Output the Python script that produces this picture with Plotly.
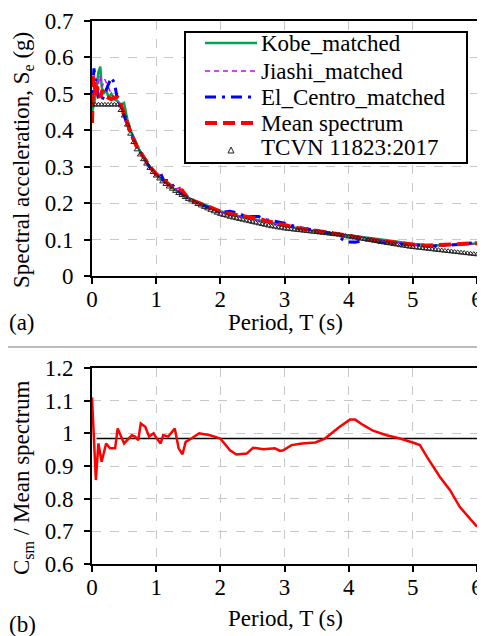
import plotly.graph_objects as go

# ---------------- data ----------------
T_tcvn = [round(0.05 * i, 2) for i in range(121)]
tcvn = [0.47, 0.47, 0.47, 0.47, 0.47, 0.47, 0.47, 0.47, 0.47,
        0.455, 0.44, 0.415, 0.39, 0.367, 0.347, 0.333, 0.32, 0.308, 0.296, 0.285,
        0.275, 0.267, 0.259, 0.252, 0.245, 0.239, 0.233, 0.227, 0.222, 0.216,
        0.211, 0.207, 0.202, 0.197, 0.193, 0.189, 0.185, 0.181, 0.177, 0.173,
        0.170, 0.167, 0.165, 0.162, 0.160, 0.158, 0.156, 0.154, 0.152, 0.150,
        0.148, 0.146, 0.144, 0.142, 0.140, 0.138, 0.136, 0.135, 0.133, 0.132,
        0.130, 0.129, 0.128, 0.127, 0.126, 0.125, 0.124, 0.123, 0.122, 0.121,
        0.120, 0.119, 0.118, 0.117, 0.116, 0.115, 0.114, 0.113, 0.111, 0.110,
        0.108, 0.107, 0.105, 0.104, 0.102, 0.101, 0.099, 0.098, 0.096, 0.095,
        0.093, 0.092, 0.090, 0.089, 0.087, 0.086, 0.084, 0.083, 0.082, 0.080,
        0.079, 0.078, 0.077, 0.076, 0.075, 0.074, 0.073, 0.072, 0.071, 0.070,
        0.069, 0.068, 0.067, 0.066, 0.065, 0.064, 0.063, 0.062, 0.061, 0.060,
        0.059]

T_kobe = [0, 0.03, 0.06, 0.1, 0.13, 0.15, 0.18, 0.22, 0.26, 0.3, 0.35, 0.4, 0.45, 0.5,
          0.55, 0.6, 0.7, 0.8, 0.9, 1.0, 1.1, 1.2, 1.3, 1.4, 1.5, 1.6, 1.7, 1.8, 2.0,
          2.2, 2.4, 2.6, 2.8, 3.0, 3.3, 3.6, 4.0, 4.3, 4.6, 5.0, 5.3, 5.6, 6.0]
kobe = [0.45, 0.47, 0.5, 0.56, 0.575, 0.52, 0.5, 0.51, 0.49, 0.5, 0.485, 0.48, 0.47, 0.475,
        0.43, 0.4, 0.36, 0.325, 0.3, 0.278, 0.262, 0.248, 0.236, 0.224, 0.214, 0.206, 0.2,
        0.193, 0.178, 0.167, 0.16, 0.153, 0.145, 0.138, 0.128, 0.12, 0.112, 0.105, 0.098,
        0.088, 0.084, 0.086, 0.089]

T_jiashi = [0, 0.04, 0.08, 0.12, 0.16, 0.2, 0.25, 0.3, 0.35, 0.4, 0.45, 0.5, 0.6, 0.7,
            0.8, 0.85, 0.9, 1.0, 1.1, 1.2, 1.3, 1.4, 1.45, 1.5, 1.6, 1.8, 2.0, 2.2, 2.4,
            2.6, 2.8, 3.0, 3.3, 3.6, 4.0, 4.3, 4.6, 5.0, 5.3, 5.6, 6.0]
jiashi = [0.47, 0.52, 0.5, 0.55, 0.52, 0.54, 0.52, 0.5, 0.49, 0.48, 0.46, 0.44, 0.39,
          0.355, 0.325, 0.32, 0.3, 0.278, 0.263, 0.25, 0.238, 0.245, 0.22, 0.212, 0.204,
          0.19, 0.176, 0.168, 0.16, 0.153, 0.143, 0.137, 0.128, 0.12, 0.112, 0.104, 0.097,
          0.087, 0.083, 0.085, 0.088]

T_elc = [0, 0.03, 0.06, 0.1, 0.15, 0.2, 0.25, 0.3, 0.35, 0.4, 0.45, 0.5, 0.6, 0.7, 0.8,
         0.9, 1.0, 1.06, 1.12, 1.2, 1.3, 1.4, 1.5, 1.6, 1.8, 2.0, 2.15, 2.25, 2.4, 2.6,
         2.7, 2.85, 3.0, 3.2, 3.5, 3.8, 3.95, 4.1, 4.3, 4.5, 4.8, 5.0, 5.3, 5.6, 6.0]
elc = [0.48, 0.57, 0.53, 0.49, 0.48, 0.5, 0.52, 0.545, 0.53, 0.48, 0.46, 0.44, 0.39,
       0.355, 0.325, 0.298, 0.278, 0.285, 0.262, 0.262, 0.24, 0.226, 0.212, 0.204, 0.188,
       0.174, 0.178, 0.174, 0.163, 0.163, 0.155, 0.149, 0.145, 0.134, 0.125, 0.115, 0.094,
       0.093, 0.1, 0.092, 0.088, 0.085, 0.082, 0.085, 0.092]

T_mean = [0, 0.02, 0.04, 0.06, 0.08, 0.1, 0.13, 0.16, 0.2, 0.25, 0.3, 0.35, 0.4, 0.45,
          0.5, 0.55, 0.6, 0.7, 0.8, 0.9, 1.0, 1.1, 1.2, 1.3, 1.4, 1.5, 1.6, 1.7, 1.8, 1.9,
          2.0, 2.1, 2.2, 2.3, 2.4, 2.5, 2.6, 2.7, 2.8, 2.9, 3.0, 3.2, 3.4, 3.6, 3.8, 4.0,
          4.2, 4.4, 4.6, 4.8, 5.0, 5.2, 5.4, 5.6, 5.8, 6.0]
mean = [0.42, 0.55, 0.53, 0.49, 0.52, 0.50, 0.49, 0.51, 0.495, 0.49, 0.485, 0.49, 0.49,
        0.47, 0.445, 0.42, 0.395, 0.355, 0.325, 0.3, 0.28, 0.265, 0.25, 0.237, 0.235,
        0.213, 0.205, 0.198, 0.19, 0.183, 0.177, 0.172, 0.17, 0.166, 0.163, 0.161, 0.157,
        0.152, 0.147, 0.143, 0.14, 0.132, 0.127, 0.121, 0.117, 0.111, 0.105, 0.099, 0.094,
        0.09, 0.085, 0.083, 0.085, 0.087, 0.088, 0.09]

T_ratio = [0.0, 0.03, 0.06, 0.1, 0.15, 0.22, 0.28, 0.36, 0.40, 0.5, 0.62, 0.67, 0.72,
           0.76, 0.83, 0.89, 0.96, 1.01, 1.07, 1.11, 1.19, 1.23, 1.29, 1.35, 1.41, 1.46,
           1.55, 1.67, 1.84, 2.0, 2.15, 2.25, 2.41, 2.51, 2.67, 2.85, 2.93, 2.98, 3.11,
           3.27, 3.48, 3.63, 3.86, 4.02, 4.1, 4.23, 4.38, 4.59, 4.8, 5.01, 5.11, 5.22,
           5.42, 5.58, 5.73, 6.0]
ratio = [1.11, 0.98, 0.857, 0.969, 0.913, 0.969, 0.954, 0.954, 1.015, 0.969, 0.994,
         0.99, 0.979, 1.03, 1.02, 0.99, 1.0, 0.984, 0.969, 0.995, 0.99, 1.0, 1.015, 0.954,
         0.936, 0.974, 0.984, 1.0, 0.994, 0.984, 0.948, 0.935, 0.938, 0.956, 0.951, 0.954,
         0.946, 0.948, 0.964, 0.969, 0.972, 0.984, 1.02, 1.042, 1.042, 1.025, 1.008, 0.994,
         0.984, 0.971, 0.964, 0.928, 0.867, 0.826, 0.775, 0.714]

T_ref = [0.07, 6.0]
ref = [0.984, 0.984]

series_names = ["Kobe_matched", "Jiashi_matched", "El_Centro_matched",
                "Mean spectrum", "TCVN 11823:2017"]

# ---------------- styles ----------------
FONT = "Liberation Serif"
FS = 23
styles = [
    dict(color="#00a650", width=2.5, dash="solid"),
    dict(color="#cc00ff", width=1.5, dash="5px,4px"),
    dict(color="#0000ff", width=3, dash="11px,6px,3px,6px"),
    dict(color="#ff0000", width=4, dash="12px,6px"),
]

# page offset: the page body has an 8 px margin
OFF = 8
W, H = 485 - OFF, 636 - OFF


def px(X):
    return (X - OFF) / W


def py(Y):
    return 1 - (Y - OFF) / H


fig = go.Figure()
for (xs, ys), nm, st in zip([(T_kobe, kobe), (T_jiashi, jiashi), (T_elc, elc),
                             (T_mean, mean)], series_names[:4], styles):
    fig.add_trace(go.Scatter(x=xs, y=ys, mode="lines", name=nm, showlegend=False,
                             line=st))
fig.add_trace(go.Scatter(x=T_tcvn, y=tcvn, mode="markers", name=series_names[4],
                         showlegend=False,
                         marker=dict(symbol="triangle-up-open", size=5, color="#222222",
                                     line=dict(width=1, color="#222222"))))

fig.add_trace(go.Scatter(x=T_ref, y=ref, mode="lines", showlegend=False,
                         line=dict(color="black", width=1.5), xaxis="x2", yaxis="y2"))
fig.add_trace(go.Scatter(x=T_ratio, y=ratio, mode="lines", showlegend=False,
                         line=dict(color="#ff0000", width=2.5), xaxis="x2", yaxis="y2"))

axis_common = dict(showline=True, linecolor="black", linewidth=2, mirror=True,
                   ticks="outside", ticklen=6, tickwidth=1.5, tickcolor="black",
                   showgrid=True, gridcolor="#c8c8c8", griddash="dash", gridwidth=1,
                   zeroline=False, automargin=False,
                   tickfont=dict(family=FONT, size=FS, color="black"))
xax = dict(range=[0, 6], dtick=1, ticklabelstandoff=-5, **axis_common)
yax = dict(dtick=0.1, tickformat=".1~f", ticklabelstandoff=6, **axis_common)

fig.update_layout(
    width=W, height=H, margin=dict(l=0, r=0, t=0, b=0, autoexpand=False),
    paper_bgcolor="white", plot_bgcolor="white",
    font=dict(family=FONT, size=FS, color="black"),
    showlegend=False,
    xaxis=dict(domain=[px(92), px(477)], anchor="y", **xax),
    yaxis=dict(domain=[py(276), py(21)], anchor="x", range=[0, 0.7], **yax),
    xaxis2=dict(domain=[px(92), px(477)], anchor="y2", **xax),
    yaxis2=dict(domain=[py(564), py(368)], anchor="x2", range=[0.6, 1.2], **yax),
)

# legend box (drawn in the upper panel)
fig.add_shape(type="rect", xref="paper", yref="paper", x0=px(185), x1=px(467),
              y0=py(163), y1=py(32), line=dict(color="black", width=2),
              fillcolor="white", layer="above")
leg_y = [43, 71, 97, 123, 148]
for i, st in enumerate(styles):
    fig.add_shape(type="line", xref="paper", yref="paper", x0=px(205), x1=px(257),
                  y0=py(leg_y[i]), y1=py(leg_y[i]), line=st, layer="above")
fig.add_shape(type="path", xref="paper", yref="paper", layer="above",
              path=f"M {px(228)} {py(153)} L {px(234)} {py(153)} L {px(231)} {py(147)} Z",
              line=dict(color="#222222", width=1))
for i, nm in enumerate(series_names):
    fig.add_annotation(xref="paper", yref="paper", x=px(259), y=py(leg_y[i]),
                       text=nm, showarrow=False, xanchor="left", yanchor="middle",
                       font=dict(family=FONT, size=FS, color="black"))

ann = [
    dict(text="Spectral acceleration, S<sub>e</sub> (g)", x=px(23), y=py(160),
         textangle=-90),
    dict(text="C<sub>sm</sub> / Mean spectrum", x=px(23), y=py(478), textangle=-90),
    dict(text="Period, T (s)", x=px(285), y=py(322)),
    dict(text="Period, T (s)", x=px(285), y=py(618)),
    dict(text="(a)", x=px(22), y=py(322)),
    dict(text="(b)", x=px(22), y=py(624)),
]
for a in ann:
    fig.add_annotation(xref="paper", yref="paper", showarrow=False,
                       xanchor="center", yanchor="middle",
                       font=dict(family=FONT, size=FS, color="black"), **a)

fig.add_shape(type="line", xref="paper", yref="paper", x0=0, x1=1,
              y0=py(347), y1=py(347), line=dict(color="#bdbdbd", width=2))

fig.write_html("out.html")
